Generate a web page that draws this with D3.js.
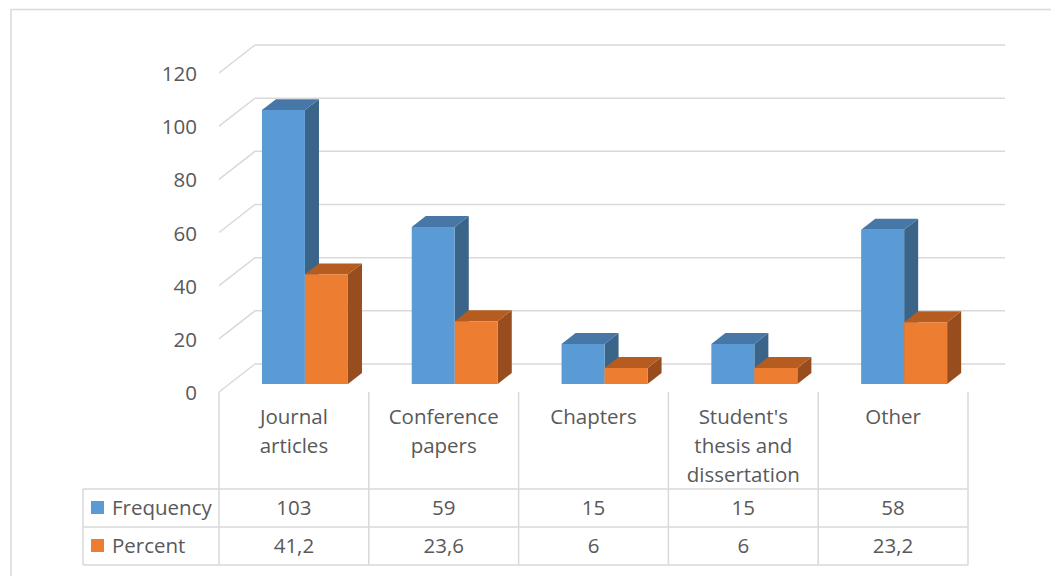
<!DOCTYPE html>
<html>
<head>
<meta charset="utf-8">
<script src="https://cdn.jsdelivr.net/npm/d3@7"></script>
<style>
  html, body { margin: 0; padding: 0; background: #ffffff; }
  svg { display: block; }
  text { font-family: "Open Sans", "Noto Sans", sans-serif; fill: #595959; }
</style>
</head>
<body>
<svg id="chart" width="1051" height="576"></svg>
<script>
// Publication types: counts and share of the total
const categories = ["Journal articles", "Conference papers", "Chapters", "Student's thesis and dissertation", "Other"];
const seriesNames = ["Frequency", "Percent"];
const frequency = [103, 59, 15, 15, 58];
const percent = [41.2, 23.6, 6, 6, 23.2];
const yTicks = [0, 20, 40, 60, 80, 100, 120];

const seriesValues = [frequency, percent];
const palette = {
  Frequency: { front: "#5B9BD5", top: "#4677A6", side: "#3A6589" },
  Percent:   { front: "#ED7D31", top: "#B65C21", side: "#974D1D" }
};

const svg = d3.select("#chart");
const fontSize = 20.5;

// plot geometry (front plane) and oblique depth offset
const left = 219, right = 968;
const floorY = 392, topY = 73;
const depthX = 36, depthY = -28;
const tFront = 0.29, tBack = 0.68;
const wallRight = 1005;

const y = d3.scaleLinear().domain([0, 120]).range([floorY, topY]);
const x0 = d3.scaleBand().domain(categories).range([left, right]).padding(0);
const bw = x0.bandwidth();
const x1 = d3.scaleBand().domain(seriesNames).range([bw * 0.217, bw * 0.791]).padding(0);

const proj = (x, v, t) => [x + depthX * t, y(v) + depthY * t];

// chart frame
svg.append("rect")
  .attr("x", 11).attr("y", 9.5)
  .attr("width", 1100).attr("height", 700)
  .attr("fill", "none").attr("stroke", "#d9d9d9").attr("stroke-width", 1.5);

// gridlines: diagonal on the side wall, then across the back wall
svg.append("g").selectAll("path")
  .data(yTicks)
  .join("path")
  .attr("d", v => {
    const f = [left, y(v)];
    const b = proj(left, v, 1);
    return `M${f[0]},${f[1]}L${b[0]},${b[1]}L${wallRight},${b[1]}`;
  })
  .attr("fill", "none")
  .attr("stroke", "#d9d9d9")
  .attr("stroke-width", 1.5);

// y axis labels
svg.append("g").selectAll("text")
  .data(yTicks)
  .join("text")
  .attr("x", 197)
  .attr("y", v => y(v) + 8)
  .attr("text-anchor", "end")
  .attr("font-size", fontSize)
  .text(d3.format("d"));

// 3D columns, drawn left to right so the right neighbour hides side faces
const bars = [];
categories.forEach((c, i) => {
  seriesNames.forEach((s, j) => {
    bars.push({ cat: c, series: s, value: seriesValues[j][i] });
  });
});

const poly = pts => "M" + pts.map(p => p.join(",")).join("L") + "Z";

const barG = svg.append("g").selectAll("g")
  .data(bars)
  .join("g");

barG.each(function(d) {
  const g = d3.select(this);
  const xa = x0(d.cat) + x1(d.series);
  const xb = xa + x1.bandwidth();
  const col = palette[d.series];
  // side face
  g.append("path")
    .attr("d", poly([proj(xb, d.value, tFront), proj(xb, d.value, tBack), proj(xb, 0, tBack), proj(xb, 0, tFront)]))
    .attr("fill", col.side);
  // top face
  g.append("path")
    .attr("d", poly([proj(xa, d.value, tFront), proj(xb, d.value, tFront), proj(xb, d.value, tBack), proj(xa, d.value, tBack)]))
    .attr("fill", col.top);
  // front face
  g.append("path")
    .attr("d", poly([proj(xa, d.value, tFront), proj(xb, d.value, tFront), proj(xb, 0, tFront), proj(xa, 0, tFront)]))
    .attr("fill", col.front);
});

// data table
const tableLeft = 83;
const rowLines = [489, 527, 565];
const lineColor = "#d9d9d9";
const table = svg.append("g").attr("stroke", lineColor).attr("stroke-width", 1.5);

rowLines.forEach(ry => {
  table.append("line").attr("x1", tableLeft).attr("x2", right).attr("y1", ry).attr("y2", ry);
});
table.append("line").attr("x1", tableLeft).attr("x2", tableLeft).attr("y1", rowLines[0]).attr("y2", rowLines[2]);
const colEdges = categories.map(c => x0(c)).concat([right]);
colEdges.forEach(cx => {
  table.append("line").attr("x1", cx).attr("x2", cx).attr("y1", floorY).attr("y2", rowLines[2]);
});

// category labels, wrapped to the column width
function wrapWords(text, maxWidth) {
  const words = text.split(" ");
  const probe = svg.append("text").attr("font-size", fontSize).attr("visibility", "hidden");
  const lines = [];
  let line = [];
  words.forEach(w => {
    const trial = line.concat([w]).join(" ");
    probe.text(trial);
    if (line.length && probe.node().getComputedTextLength() > maxWidth) {
      lines.push(line.join(" "));
      line = [w];
    } else {
      line.push(w);
    }
  });
  if (line.length) lines.push(line.join(" "));
  probe.remove();
  return lines;
}

const catLabels = svg.append("g");
categories.forEach(c => {
  const lines = wrapWords(c, 125);
  const t = catLabels.append("text")
    .attr("text-anchor", "middle")
    .attr("font-size", fontSize);
  lines.forEach((ln, k) => {
    t.append("tspan")
      .attr("x", x0(c) + bw / 2)
      .attr("y", 424 + k * 29)
      .text(ln);
  });
});

// table rows: legend key, series name, values
const fmt = v => String(v).replace(".", ",");
seriesNames.forEach((s, j) => {
  const cy = (rowLines[j] + rowLines[j + 1]) / 2;
  svg.append("rect")
    .attr("x", 91).attr("y", cy - 7)
    .attr("width", 13).attr("height", 13)
    .attr("fill", palette[s].front);
  svg.append("text")
    .attr("x", 112).attr("y", cy + 7)
    .attr("font-size", fontSize)
    .text(s);
  categories.forEach((c, i) => {
    svg.append("text")
      .attr("x", x0(c) + bw / 2)
      .attr("y", cy + 7)
      .attr("text-anchor", "middle")
      .attr("font-size", fontSize)
      .text(fmt(seriesValues[j][i]));
  });
});
</script>
</body>
</html>
